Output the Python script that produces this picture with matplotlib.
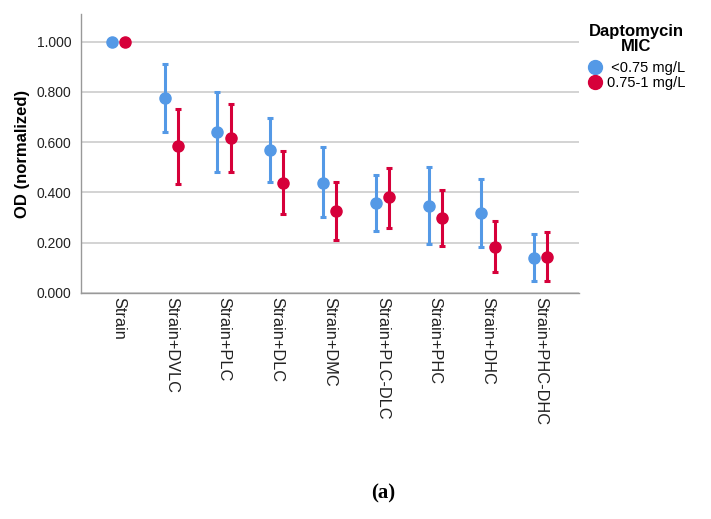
import matplotlib
matplotlib.use("Agg")
import matplotlib.pyplot as plt
import numpy as np
from matplotlib.lines import Line2D

plt.rcParams['font.family'] = ['Liberation Sans', 'DejaVu Sans']

categories = ["Strain", "Strain+DVLC", "Strain+PLC", "Strain+DLC", "Strain+DMC",
              "Strain+PLC-DLC", "Strain+PHC", "Strain+DHC", "Strain+PHC-DHC"]
low_mean = [1.000, 0.776, 0.639, 0.570, 0.438, 0.357, 0.347, 0.318, 0.141]
low_upper = [1.000, 0.912, 0.798, 0.697, 0.579, 0.469, 0.501, 0.454, 0.235]
low_lower = [1.000, 0.641, 0.482, 0.443, 0.303, 0.247, 0.194, 0.182, 0.047]
high_mean = [1.000, 0.583, 0.616, 0.438, 0.327, 0.380, 0.300, 0.183, 0.145]
high_upper = [1.000, 0.734, 0.753, 0.563, 0.443, 0.499, 0.410, 0.287, 0.242]
high_lower = [1.000, 0.435, 0.482, 0.316, 0.211, 0.258, 0.187, 0.082, 0.049]
series_labels = [" <0.75 mg/L", "0.75-1 mg/L"]
yticks = [0.0, 0.2, 0.4, 0.6, 0.8, 1.0]

blue = "#5499E6"
red = "#D6003A"

fig = plt.figure(figsize=(7.11, 5.19), dpi=100)
ax = fig.add_axes([0.114, 0.4355, 0.700, 0.5375])

x = np.arange(len(categories))
off = 0.125
for mean, up, lo, col, dx in [(low_mean, low_upper, low_lower, blue, -off),
                              (high_mean, high_upper, high_lower, red, off)]:
    mean = np.array(mean); up = np.array(up); lo = np.array(lo)
    yerr = np.vstack([mean - lo, up - mean])
    ax.errorbar(x + dx, mean, yerr=yerr, fmt='o', color=col, ecolor=col,
                elinewidth=2.2, capsize=2.2, capthick=2.2, markersize=8,
                zorder=3)

ax.set_xlim(-0.71, 8.72)
ax.set_ylim(0, 1.11)
ax.set_yticks(yticks)
ax.set_yticklabels([f"{v:.3f}" for v in yticks], fontsize=10, color="#222222")
ax.set_xticks(x)
ax.set_xticklabels(categories, rotation=-90, fontsize=11.8, color="#222222",
                   va='top', ha='center')
ax.tick_params(axis='y', length=0, pad=7)
ax.tick_params(axis='x', length=0, pad=3)
ax.grid(axis='y', color="#CCCCCC", linewidth=1.2, zorder=0)
ax.set_axisbelow(True)
for s in ['top', 'right']:
    ax.spines[s].set_visible(False)
for s in ['left', 'bottom']:
    ax.spines[s].set_color("#999999")
    ax.spines[s].set_linewidth(1.0)
ax.set_ylabel("OD (normalized)", fontsize=12, fontweight='bold', labelpad=5)

handles = [Line2D([0], [0], marker='o', linestyle='', color=blue, markersize=10),
           Line2D([0], [0], marker='o', linestyle='', color=red, markersize=10)]
leg = fig.legend(handles, series_labels, loc='upper left',
                 bbox_to_anchor=(0.818, 0.965), frameon=False, fontsize=10.5,
                 title="Daptomycin\nMIC", handletextpad=0.35, labelspacing=0.05,
                 borderaxespad=0, handlelength=1.0)
leg.get_title().set_fontweight('bold')
leg.get_title().set_fontsize(12)
leg.get_title().set_multialignment('center')
leg.get_title().set_linespacing(1.0)
leg._legend_box.sep = 5

fig.text(0.539, 0.05, "(a)", fontsize=15, fontweight='bold', ha='center',
         va='center', family=['Liberation Serif', 'DejaVu Serif'])

fig.savefig("out.png", dpi=100)
